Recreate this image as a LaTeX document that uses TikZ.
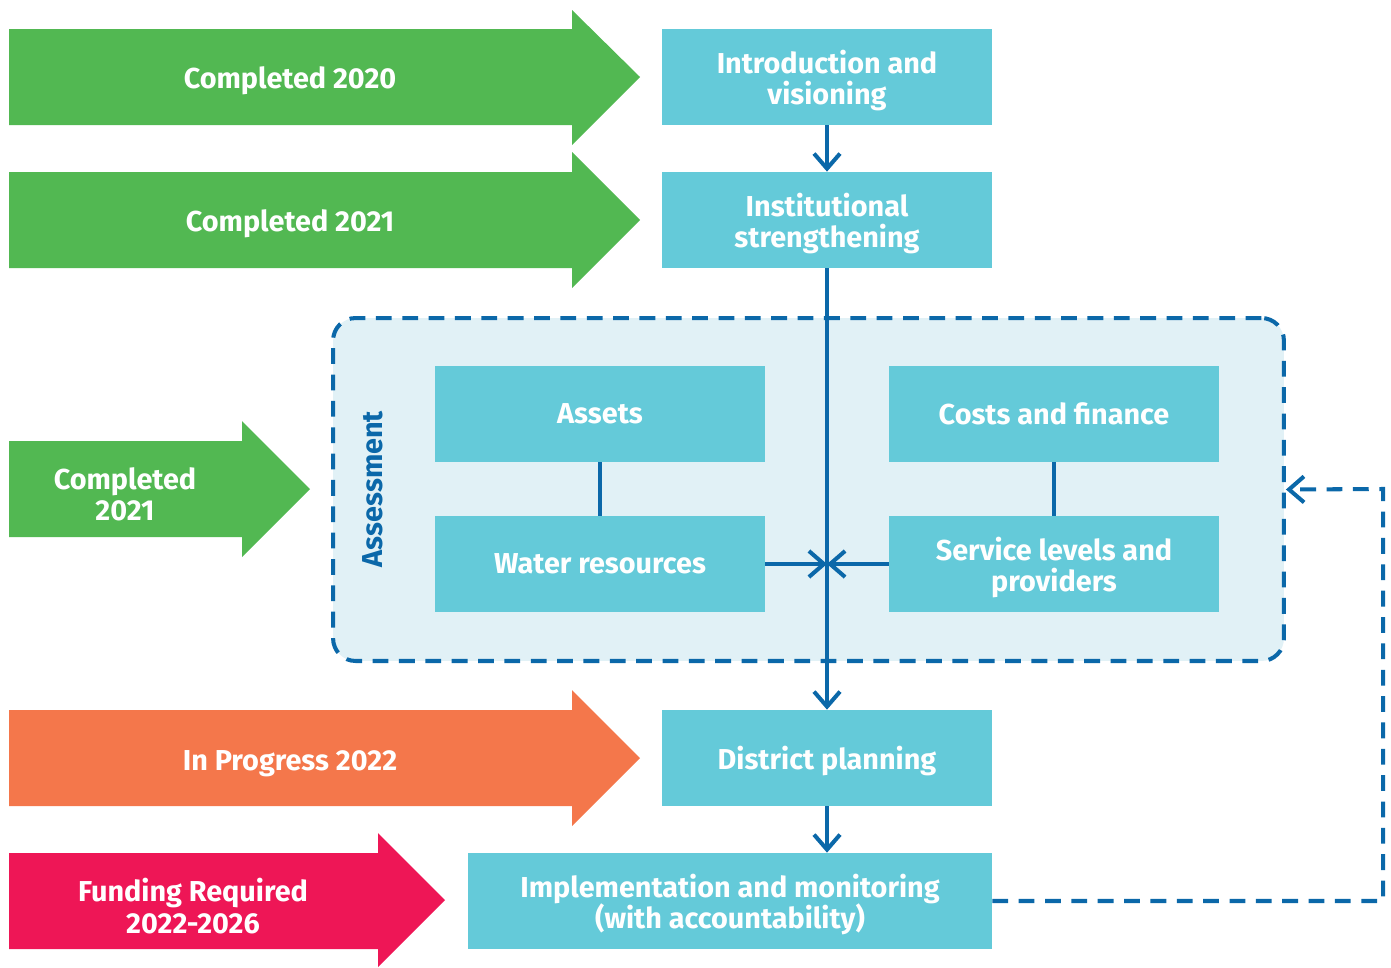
\documentclass[tikz,border=0pt]{standalone}
\usepackage{fontspec}
\setmainfont{Fira Sans}
\usetikzlibrary{arrows.meta,positioning}

\definecolor{donegreen}{HTML}{52B852}
\definecolor{progorange}{HTML}{F4774B}
\definecolor{fundred}{HTML}{EE1656}
\definecolor{stagecyan}{HTML}{64CAD9}
\definecolor{flowblue}{HTML}{0B68A9}
\definecolor{assesslight}{HTML}{E1F1F6}

\begin{document}
\begin{tikzpicture}[x=0.02cm,y=-0.02cm,
  every node/.style={font=\bfseries\fontsize{16.4}{17.8}\selectfont,align=center,text=white},
  stagebox/.style={fill=stagecyan,minimum width=6.6cm,minimum height=1.92cm,inner sep=0pt,text depth=0pt},
  flow/.style={draw=flowblue,line width=2.3pt,
               -{Straight Barb[length=0.3cm,width=0.52cm,line width=2.3pt]}},
  link/.style={draw=flowblue,line width=2.3pt},
  feedback/.style={flow,dash pattern=on 9pt off 6pt}]
\useasboundingbox (0,0) rectangle (1391,967);

% status arrows
\fill[donegreen]  (9,29)  -- (572,29)  -- (572,10)  -- (640,77)  -- (572,145) -- (572,125) -- (9,125) -- cycle;
\fill[donegreen]  (9,172) -- (572,172) -- (572,152) -- (640,220) -- (572,288) -- (572,268) -- (9,268) -- cycle;
\fill[donegreen]  (9,441) -- (242,441) -- (242,421) -- (310,489) -- (242,557) -- (242,537) -- (9,537) -- cycle;
\fill[progorange] (9,710) -- (572,710) -- (572,690) -- (640,758) -- (572,826) -- (572,806) -- (9,806) -- cycle;
\fill[fundred]    (9,853) -- (378,853) -- (378,833) -- (445,900) -- (378,967) -- (378,949) -- (9,949) -- cycle;

\node (done2020) at (290,81)  {Completed 2020};
\node (done2021) at (290,224) {Completed 2021};
\node (doneAss)  at (125,494) {Completed\\2021};
\node (prog2022) at (290,764) {In Progress 2022};
\node (funding)  at (193,906) {Funding Required\\2022-2026};

% assessment frame
\node[draw=flowblue,fill=assesslight,line width=2.3pt,dash pattern=on 9pt off 6pt,
      rounded corners=0.45cm,minimum width=19.02cm,minimum height=6.86cm] (assess) at (808.5,489.5) {};
\node[text=flowblue,rotate=90] (assesslbl) at (373,489) {Assessment};

% stages
\node[stagebox] (intro)    at (827,77)  {Introduction and\\visioning};
\node[stagebox] (inst)     at (827,220) {Institutional\\strengthening};
\node[stagebox] (assets)   at (600,414) {Assets};
\node[stagebox] (costs)    at (1054,414) {Costs and finance};
\node[stagebox] (water)    at (600,564) {Water resources};
\node[stagebox] (service)  at (1054,564) {Service levels and\\providers};
\node[stagebox] (district) at (827,758) {District planning};
\node[stagebox,minimum width=10.48cm] (implement) at (730,901) {Implementation and monitoring\\(with accountability)};

\coordinate (meet) at (827,564);
\coordinate (loopdown) at (1383,901);
\coordinate (loopup) at (1383,489);

\draw[flow] (intro) -- (inst);
\draw[flow] (inst) -- (district);
\draw[flow] (district) -- (implement.north -| district);
\draw[link] (assets) -- (water);
\draw[link] (costs) -- (service);
\draw[flow] (water) -- (meet);
\draw[flow] (service) -- (meet);
\draw[feedback] (implement) -- (loopdown) -- (loopup) -- (assess.east);
\end{tikzpicture}
\end{document}
